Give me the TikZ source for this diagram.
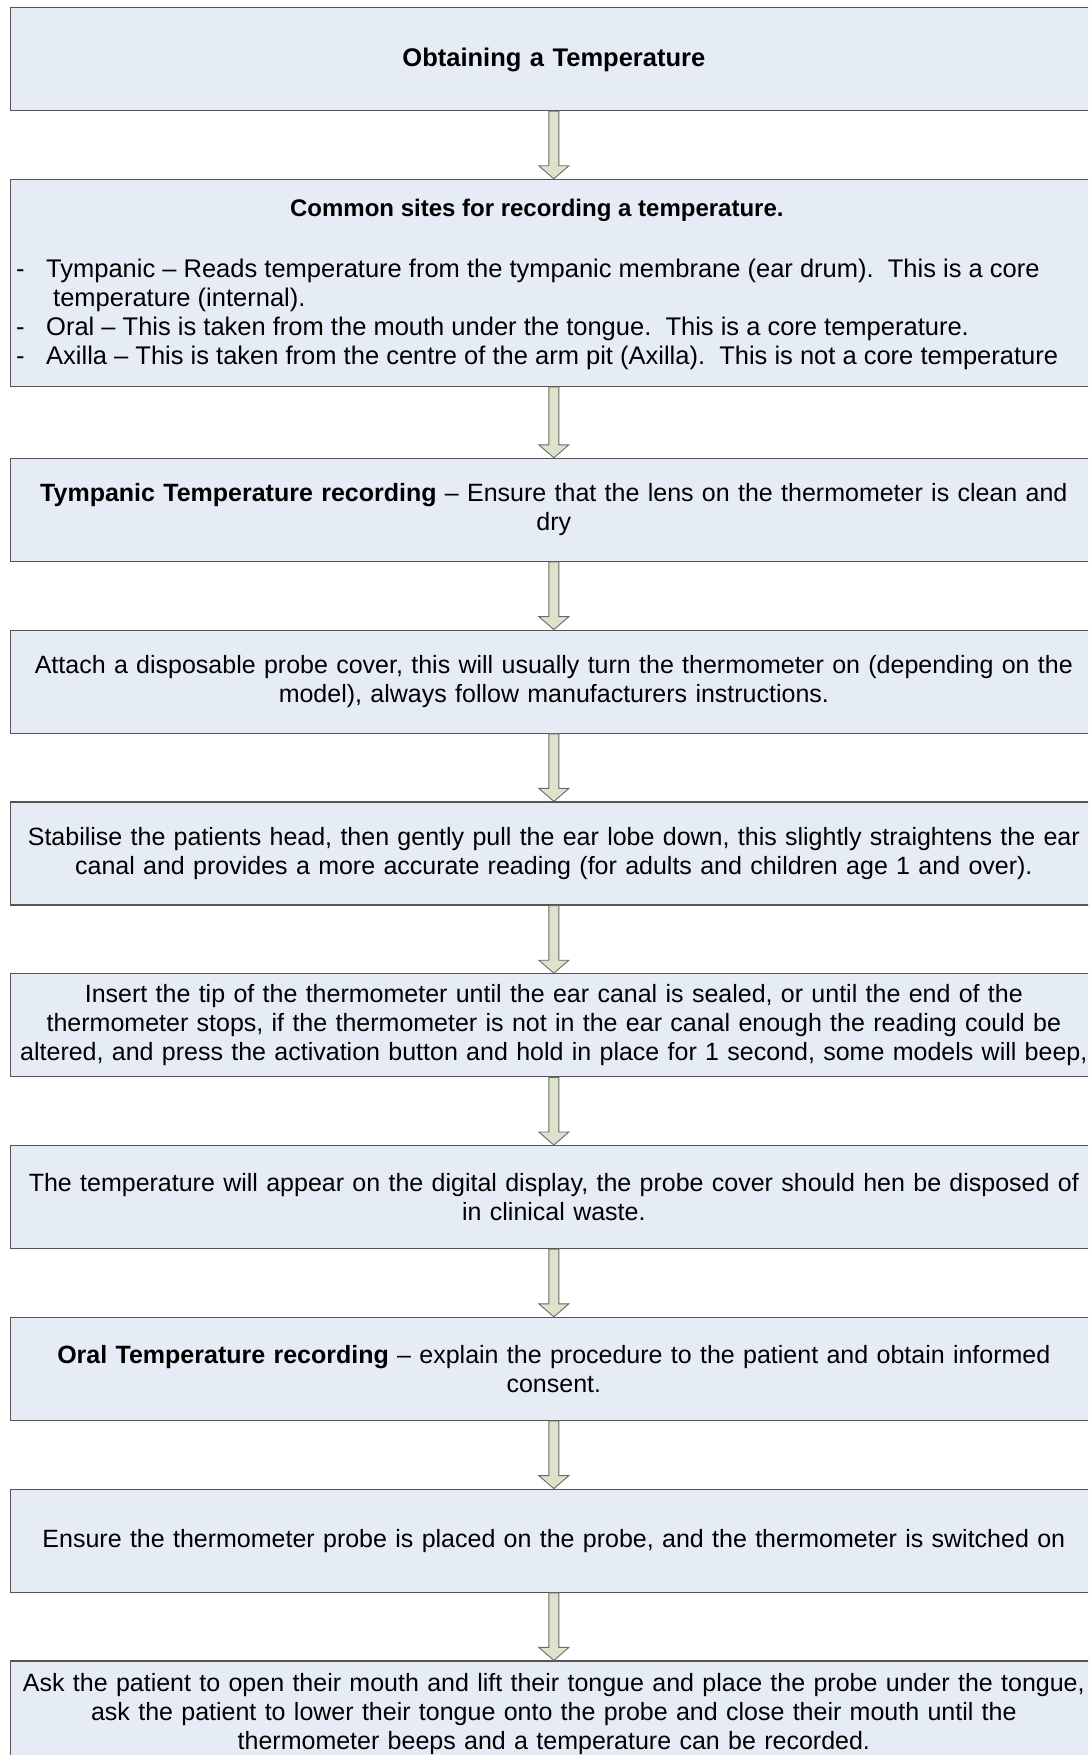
\documentclass[tikz,border=0pt]{standalone}
\usepackage{fontspec}
\setmainfont{Liberation Sans}
\usetikzlibrary{positioning,calc}
\definecolor{boxfill}{RGB}{229,236,246}
\definecolor{boxline}{RGB}{85,85,85}
\definecolor{arrowfill}{RGB}{221,226,203}
\definecolor{arrowline}{RGB}{105,105,105}
\newcommand{\flowarrow}[2]{%
 \draw[arrowbody] let \p1=(#1.south), \p2=(#2.north) in
  (\x1-5pt,\y1) -- (\x1+5pt,\y1) -- (\x1+5pt,\y2+13pt) -- (\x1+15pt,\y2+13pt)
  -- (\x1,\y2) -- (\x1-15pt,\y2+13pt) -- (\x1-5pt,\y2+13pt) -- cycle;}

\begin{document}
\begin{tikzpicture}[x=1pt,y=1pt,node distance=67.6pt,
 every node/.style={font=\fontsize{25}{29}\selectfont},
 stepbox/.style={draw=boxline,fill=boxfill,line width=1.2pt,minimum height=103pt,
  text width=1085pt,inner xsep=1.25pt,inner ysep=2pt,align=center},
 arrowbody/.style={draw=arrowline,fill=arrowfill,line width=0.9pt}]
 \useasboundingbox (0,0) rectangle (1088,-1755);
 \clip (0,0) rectangle (1088,-1755);
 \node[stepbox,anchor=north west,font=\fontsize{25.5}{29}\selectfont\bfseries,text depth=4pt] (title) at (9.5,-7) {Obtaining a Temperature};
 \node[stepbox,minimum height=207pt,below=of title] (sites) {};
 \node[stepbox,below=70.8pt of sites] (tymp) {\textbf{Tympanic Temperature recording} – Ensure that the lens on the thermometer is clean and\\ dry};
 \node[stepbox,below=of tymp] (cover) {Attach a disposable probe cover, this will usually turn the thermometer on (depending on the\\ model), always follow manufacturers instructions.};
 \node[stepbox,below=of cover] (head) {Stabilise the patients head, then gently pull the ear lobe down, this slightly straightens the ear\\ canal and provides a more accurate reading (for adults and children age 1 and over).};
 \node[stepbox,below=of head] (insert) {Insert the tip of the thermometer until the ear canal is sealed, or until the end of the\\ thermometer stops, if the thermometer is not in the ear canal enough the reading could be\\ \makebox[\linewidth][c]{altered, and press the activation button and hold in place for 1 second, some models will beep,}};
 \node[stepbox,below=of insert] (display) {The temperature will appear on the digital display, the probe cover should hen be disposed of\\ in clinical waste.};
 \node[stepbox,below=of display] (oral) {\textbf{Oral Temperature recording} – explain the procedure to the patient and obtain informed\\ consent.};
 \node[stepbox,below=of oral] (probe) {Ensure the thermometer probe is placed on the probe, and the thermometer is switched on};
 \node[stepbox,minimum height=107pt,below=of probe] (mouth) {Ask the patient to open their mouth and lift their tongue and place the probe under the tongue,\\ ask the patient to lower their tongue onto the probe and close their mouth until the\\ thermometer beeps and a temperature can be recorded.};
 % text of the sites box
 \node[font=\fontsize{24}{29}\selectfont\bfseries] (sitesHead) at ([xshift=-17pt,yshift=-32pt]sites.north) {Common sites for recording a temperature.};
 \node[anchor=north west,align=left,inner sep=0pt,font=\fontsize{25.5}{29}\selectfont] (sitesList) at ([xshift=6.5pt,yshift=-80.5pt]sites.north west)
  {\makebox[30pt][l]{-}Tympanic – Reads temperature from the tympanic membrane (ear drum).\ \ This is a core\\
   \hspace*{37pt}temperature (internal).\\
   \makebox[30pt][l]{-}Oral – This is taken from the mouth under the tongue.\ \ This is a core temperature.\\
   \makebox[30pt][l]{-}Axilla – This is taken from the centre of the arm pit (Axilla).\ \ This is not a core temperature};
 \foreach \a/\b in {title/sites,sites/tymp,tymp/cover,cover/head,head/insert,insert/display,display/oral,oral/probe,probe/mouth}
  {\flowarrow{\a}{\b}}
\end{tikzpicture}
\end{document}
